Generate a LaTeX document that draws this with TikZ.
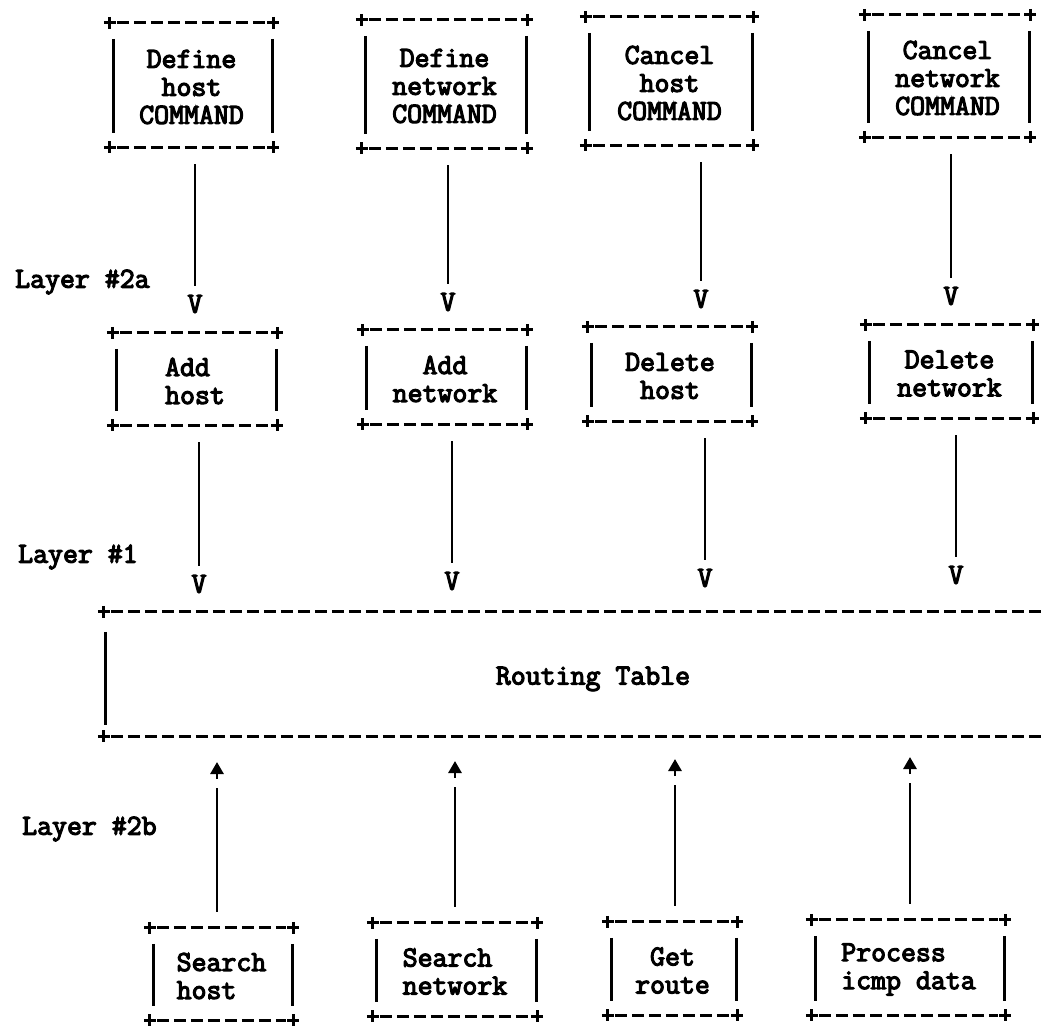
\documentclass[tikz,border=0pt]{standalone}
\usepackage{fontspec}
\setmainfont{Latin Modern Mono}[FakeBold=4]
\usetikzlibrary{fit,arrows.meta}
\newcommand\asciibox[7][center]{%
  \node[boxn, fit={(#3,#4) (#5,#6)},
        label={[boxtxt, align=#1]center:{#7}}] (#2) {};
  \draw[dashln] (#2.north west) -- (#2.north east);
  \draw[dashln] (#2.south west) -- (#2.south east);
  \draw[lw] ([xshift=4pt,yshift=-16pt]#2.north west) -- ([xshift=4pt,yshift=14pt]#2.south west);
  \draw[lw] ([xshift=-1pt,yshift=-16pt]#2.north east) -- ([xshift=-1pt,yshift=14pt]#2.south east);
  \foreach \cc in {north west,north east,south west,south east}
    {\draw[pl] (#2.\cc) +(-6,0) -- +(6,0) +(0,-6) -- +(0,6);}
}
\begin{document}
\begin{tikzpicture}[x=1pt,y=-1pt,
  lw/.style={line width=2.8pt},
  pl/.style={line width=3pt},
  dashln/.style={line width=3.2pt, dash pattern=on 12pt off 5pt, shorten <=7pt, shorten >=7pt},
  txt/.style={font=\fontsize{29}{28}\selectfont},
  boxn/.style={inner sep=0pt},
  boxtxt/.style={txt, inner sep=0pt, yshift=-2pt},
  vhead/.style={txt, inner sep=0pt},
  conn/.style={lw, shorten <=17pt, shorten >=9pt},
  upconn/.style={lw, shorten <=16pt, shorten >=26pt},
  uptip/.style={lw, -{Triangle[length=12pt,width=13pt]}},
  layer/.style={txt, anchor=west, inner sep=0pt}
]
\useasboundingbox (0,0) rectangle (1042,1026);
\fill[white] (0,0) rectangle (1042,1026);

% row 1
\asciibox{dh}{110}{23}{273}{147}{Define\\host\\COMMAND}
\asciibox{dn}{362}{20}{527}{148}{Define\\network\\COMMAND}
\asciibox{ch}{586}{17}{753}{145}{Cancel\\host\\COMMAND}
\asciibox{cn}{865}{15}{1030}{137}{Cancel\\network\\COMMAND}

% row 2
\asciibox[left]{ah}{113}{333}{277}{425}{Add\\host}
\asciibox{an}{363}{330}{527}{424}{Add\\network}
\asciibox{delh}{588}{327}{752}{421}{Delete\\host}
\asciibox{deln}{866}{325}{1033}{418}{Delete\\network}

% row 3
\asciibox[left]{sh}{150}{928}{293}{1020}{Search\\host}
\asciibox[left]{sn}{373}{923}{537}{1016}{Search\\network}
\asciibox{gr}{608}{922}{737}{1015}{Get\\route}
\asciibox[left]{pi}{812}{920}{1005}{1015}{Process\\icmp data}

% routing table
\node[boxn, fit={(104,612) (1082,736)}, label={[boxtxt, yshift=-3pt]center:Routing Table}] (rt) {};
\draw[dashln, shorten >=0pt] (rt.north west) -- (rt.north east);
\draw[dashln, shorten >=0pt] (rt.south west) -- (rt.south east);
\draw[lw] ([xshift=2pt,yshift=-20pt]rt.north west) -- ([xshift=2pt,yshift=11pt]rt.south west);
\foreach \cc in {north west,south west}
  {\draw[pl] (rt.\cc) +(-6,0) -- +(6,0) +(0,-6) -- +(0,6);}

% layer labels
\node[layer] (l2a) at (15,282) {Layer \#2a};
\node[layer] (l1) at (18,557) {Layer \#1};
\node[layer] (l2b) at (22,829) {Layer \#2b};

% V heads
\node[vhead] (v11) at (195,304) {V};
\node[vhead] (v21) at (448,302) {V};
\node[vhead] (v31) at (701,299) {V};
\node[vhead] (v41) at (951,296) {V};
\node[vhead] (v12) at (199,584) {V};
\node[vhead] (v22) at (452,581) {V};
\node[vhead] (v32) at (705,578) {V};
\node[vhead] (v42) at (956,575) {V};

\draw[conn] (dh.south -| v11) -- (v11);
\draw[conn] (dn.south -| v21) -- (v21);
\draw[conn] (ch.south -| v31) -- (v31);
\draw[conn] (cn.south -| v41) -- (v41);
\draw[conn] (ah.south -| v12) -- (v12);
\draw[conn] (an.south -| v22) -- (v22);
\draw[conn] (delh.south -| v32) -- (v32);
\draw[conn] (deln.south -| v42) -- (v42);

% up arrows
\coordinate (t1) at (217,762);
\coordinate (t2) at (455,761);
\coordinate (t3) at (675,759);
\coordinate (t4) at (910,757);
\draw[upconn] (sh.north -| t1) -- (t1);
\draw[upconn] (sn.north -| t2) -- (t2);
\draw[upconn] (gr.north -| t3) -- (t3);
\draw[upconn] (pi.north -| t4) -- (t4);
\foreach \t in {t1,t2,t3,t4}
  {\draw[uptip] ([yshift=-17pt]\t) -- (\t);}
\end{tikzpicture}
\end{document}
